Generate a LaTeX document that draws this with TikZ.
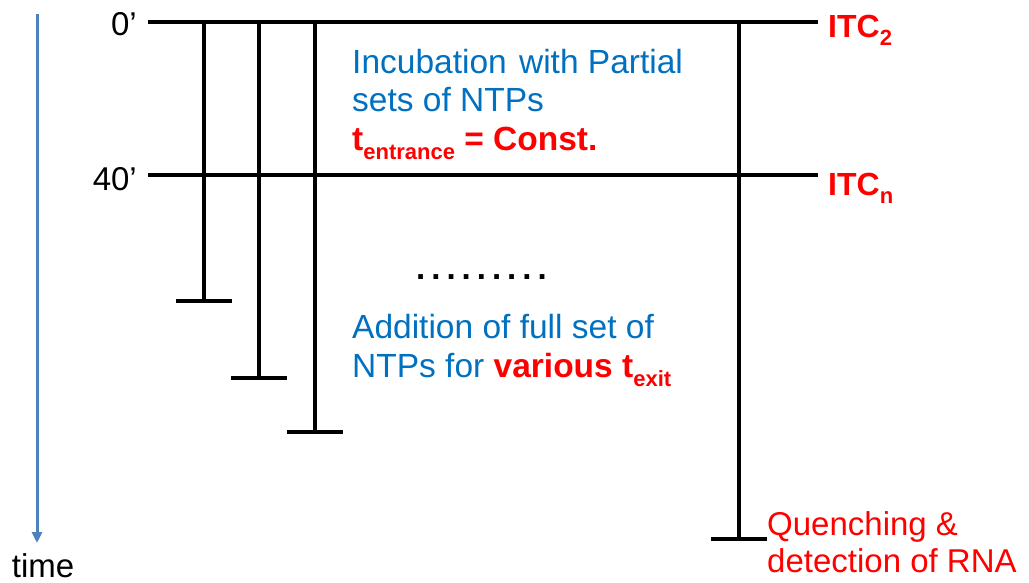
\documentclass[tikz,border=0pt]{standalone}
\usepackage{fontspec}
\setmainfont{Liberation Sans}
\usetikzlibrary{arrows.meta}
\definecolor{txtblue}{RGB}{0,112,192}
\definecolor{arrblue}{RGB}{79,129,189}
\definecolor{txtred}{RGB}{255,0,0}
\newcommand{\sbs}[1]{\raisebox{-0.28em}{\fontsize{22}{22}\selectfont #1}}
\begin{document}
\begin{tikzpicture}[x=1pt,y=-1pt,
  bar/.style={line width=3.2pt,black},
  lbl/.style={inner sep=0pt,font=\fontsize{33}{38}\selectfont},
  bluetxt/.style={lbl,text=txtblue,anchor=base west,font=\fontsize{33.5}{38}\selectfont},
  redlbl/.style={lbl,text=txtred,font=\bfseries\fontsize{32}{38}\selectfont,anchor=base west}]
\useasboundingbox (0,0) rectangle (1029,582);
% time arrow
\coordinate (tA) at (37,14);
\coordinate (tB) at (37,543);
\draw[arrblue,line width=3pt,-{Triangle[length=11pt,width=10pt]}] (tA) -- (tB);
\node[lbl,anchor=base] (time) at (43,577) {time};
% time labels
\node[lbl,anchor=base east] (t0) at (137,35) {0’};
\node[lbl,anchor=base east] (t40) at (137,190) {40’};
% horizontal lines
\coordinate (h0L) at (148,22); \coordinate (h0R) at (818,22);
\coordinate (h1L) at (148,175); \coordinate (h1R) at (818,175);
\draw[bar] (h0L) -- (h0R);
\draw[bar] (h1L) -- (h1R);
% verticals with feet
\foreach \x/\y/\n in {204/301/a,259/378/b,315/432/c,739/539/d}{
  \coordinate (v\n T) at (\x,22);
  \coordinate (v\n B) at (\x,\y);
  \coordinate (f\n L) at (\x-28,\y);
  \coordinate (f\n R) at (\x+28,\y);
  \draw[bar] (v\n T) -- (v\n B);
  \draw[bar] (f\n L) -- (f\n R);
}
% labels right
\node[redlbl] (itc2) at (828,37) {ITC\sbs{2}};
\node[redlbl] (itcn) at (828,195) {ITC\sbs{n}};
% blue texts
\node[bluetxt] (inc1) at (352,73) {Incubation\kern3pt{} with Partial};
\node[bluetxt] (inc2) at (352,111) {sets of NTPs};
\node[bluetxt,text=txtred,font=\bfseries\fontsize{33.5}{38}\selectfont] (inc3) at (352,150) {t\sbs{entrance} = Const.};
\node[lbl,anchor=base west,font=\bfseries\fontsize{33}{38}\selectfont] (dots) at (416,279)
  {.\kern6pt.\kern6pt.\kern6pt.\kern6pt.\kern6pt.\kern6pt.\kern6pt.\kern6pt.};
\node[bluetxt] (add1) at (352,338) {Addition of full set of};
\node[bluetxt] (add2) at (352,377) {NTPs for \textcolor{txtred}{\bfseries various t\sbs{exit}}};
\node[lbl,text=txtred,anchor=base west] (q1) at (767,535) {Quenching \&};
\node[lbl,text=txtred,anchor=base west] (q2) at (767,572) {detection of RNA};
\end{tikzpicture}
\end{document}
